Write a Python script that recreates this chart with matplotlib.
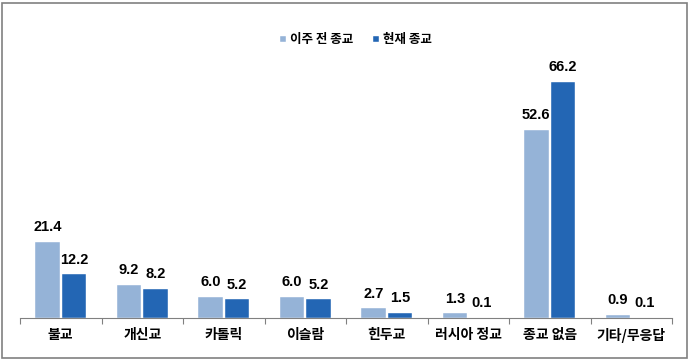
import matplotlib
matplotlib.use("Agg")
import matplotlib.pyplot as plt
from matplotlib.patches import Rectangle
import numpy as np

categories = ["불교", "개신교", "카톨릭", "이슬람", "힌두교", "러시아 정교", "종교 없음", "기타/무응답"]
before = [21.4, 9.2, 6.0, 6.0, 2.7, 1.3, 52.6, 0.9]
current = [12.2, 8.2, 5.2, 5.2, 1.5, 0.1, 66.2, 0.1]
series_names = ["이주 전 종교", "현재 종교"]

plt.rcParams['font.family'] = ['Noto Sans CJK KR', 'DejaVu Sans']

W, H = 689, 359
fig = plt.figure(figsize=(W/100, H/100), dpi=100)
ax = fig.add_axes([20/W, (H-318)/H, (672-20)/W, (318-60)/H])

c1 = "#95B3D7"
c2 = "#2366B4"
x = np.arange(len(categories))
bw = 0.30
gap = 0.015
b1 = ax.bar(x - bw/2 - gap, before, bw, color=c1, edgecolor="white", linewidth=0.3, label=series_names[0])
b2 = ax.bar(x + bw/2 + gap, current, bw, color=c2, edgecolor="white", linewidth=0.3, label=series_names[1])

numfont = ['Liberation Sans Narrow', 'Liberation Sans', 'DejaVu Sans']
for xi, v in zip(x - bw/2 - gap, before):
    ax.text(xi, v + 2.2, f"{v:.1f}", ha="center", va="bottom", fontsize=10.5, fontweight="bold", family=numfont)
for xi, v in zip(x + bw/2 + gap, current):
    ax.text(xi, v + 2.2, f"{v:.1f}", ha="center", va="bottom", fontsize=10.5, fontweight="bold", family=numfont)

ax.set_xlim(-0.5, len(categories) - 0.5)
ax.set_ylim(0, 72.3)
for s in ["top", "right", "left"]:
    ax.spines[s].set_visible(False)
ax.spines["bottom"].set_color("#808080")
ax.spines["bottom"].set_linewidth(0.8)
ax.set_yticks([])
ax.set_xticks(np.arange(-0.5, len(categories), 1.0))
ax.set_xticklabels([])
ax.tick_params(axis="x", direction="out", length=4, color="#808080", width=0.8)
ax.set_xticks(x, minor=True)
ax.set_xticklabels(categories, minor=True, fontsize=10, fontweight="bold")
ax.tick_params(axis="x", which="minor", length=0, pad=7)

leg = fig.legend(handles=[b1, b2], labels=series_names, loc="center", bbox_to_anchor=(356/W, 1 - 40/H),
                 ncol=2, frameon=False, prop={'weight': 'bold', 'size': 9},
                 handlelength=0.45, handleheight=0.45, columnspacing=1.6, handletextpad=0.35)

fig.patches.append(Rectangle((1.5/W, 1.5/H), (W-4)/W, (H-4)/H, transform=fig.transFigure,
                             fill=False, edgecolor="#808080", linewidth=1.2))
fig.savefig("out.png", dpi=100)
